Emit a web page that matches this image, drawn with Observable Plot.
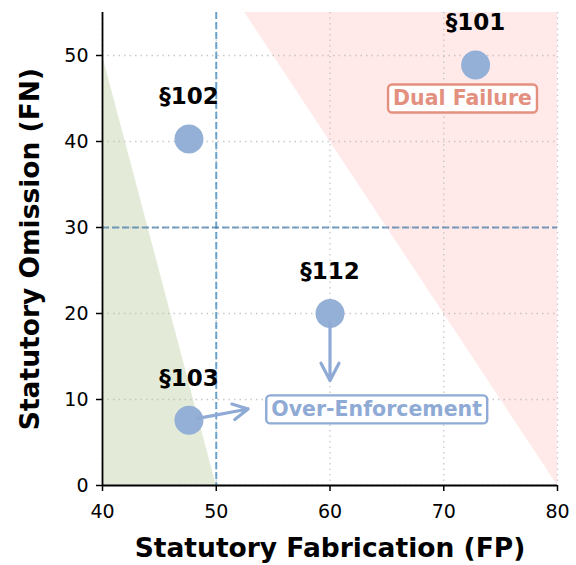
<!DOCTYPE html>
<html><head><meta charset="utf-8">
<script src="https://cdn.jsdelivr.net/npm/d3@7"></script>
<script src="https://cdn.jsdelivr.net/npm/@observablehq/plot@0.6"></script>
<style>
body{margin:0;background:#fff;}
svg{font-family:"DejaVu Sans",sans-serif;}
</style></head><body><div id="chart"></div>
<script>
// data
const sections = ["§101","§102","§112","§103"];
const fp = [72.8, 47.6, 60.0, 47.6];
const fn = [48.9, 40.3, 20.0, 7.6];
const xTicks = [40,50,60,70,80];
const yTicks = [0,10,20,30,40,50];
const thresholdFp = 50;
const thresholdFn = 30;
// zones: x, lower bound, upper bound
const greenX = [40, 50], greenLo = [0, 0], greenHi = [50, 0];
const redX = [52.5, 80], redLo = [55, 0], redHi = [55, 55];
const arrowFrom = [[60,19],[48.4,7.8]];
const arrowTo = [[60,12.2],[52.8,8.9]];
const boxLabels = ["Dual Failure","Over-Enforcement"];
const boxFp = [71.65, 64.1];
const boxFn = [44.95, 8.8];
const boxColors = ["#e3907f","#8eaad5"];

const pts = sections.map((s,i)=>({s, x:fp[i], y:fn[i]}));
const arrows = arrowFrom.map((a,i)=>({x1:a[0],y1:a[1],x2:arrowTo[i][0],y2:arrowTo[i][1]}));
const boxes = boxLabels.map((t,i)=>({t,x:boxFp[i],y:boxFn[i],c:boxColors[i]}));
const green = greenX.map((x,i)=>({x, lo:greenLo[i], hi:greenHi[i]}));
const red = redX.map((x,i)=>({x, lo:redLo[i], hi:redHi[i]}));

const chart = Plot.plot({
  width:576, height:565,
  marginLeft:102, marginRight:19, marginTop:12, marginBottom:80,
  x:{domain:[40,80], ticks:xTicks, label:null},
  y:{domain:[0,55], ticks:yTicks, label:null},
  style:{fontFamily:"DejaVu Sans, sans-serif", background:"#fff"},
  marks:[
    Plot.areaY(red, {x:"x", y1:"lo", y2:"hi", fill:"#ffe9e9"}),
    Plot.areaY(green, {x:"x", y1:"lo", y2:"hi", fill:"#e3ebd8"}),
    Plot.gridX(xTicks, {stroke:"#bbb", strokeOpacity:0.8, strokeDasharray:"1.5,4", strokeWidth:1.3}),
    Plot.gridY(yTicks, {stroke:"#bbb", strokeOpacity:0.8, strokeDasharray:"1.5,4", strokeWidth:1.3}),
    Plot.ruleX([thresholdFp], {stroke:"#4a8fc2", strokeOpacity:0.8, strokeWidth:2, strokeDasharray:"7,3"}),
    Plot.ruleY([thresholdFn], {stroke:"#4a7fae", strokeOpacity:0.75, strokeWidth:2, strokeDasharray:"7,3"}),
    Plot.dot(pts, {x:"x", y:"y", r:14.5, fill:"#94b0d7"}),
    Plot.arrow(arrows, {x1:"x1", y1:"y1", x2:"x2", y2:"y2", stroke:"#8eaad5", strokeWidth:3.2, headLength:12, headAngle:55}),
    Plot.text(pts, {x:"x", y:"y", text:"s", dy:-42, fontSize:23, fontWeight:"bold", fill:"#000"}),
    Plot.text(boxes, {x:"x", y:"y", text:"t", fill:"c", fontSize:20.5, fontWeight:"bold", className:"boxlabel"}),
    Plot.axisX(xTicks, {tickSize:6, fontSize:19, tickPadding:13, stroke:"#000", strokeWidth:1.5, color:"#000", label:null}),
    Plot.axisY(yTicks, {tickSize:6, fontSize:19, tickPadding:8, stroke:"#000", strokeWidth:1.5, color:"#000", label:null}),
    Plot.ruleX([40], {stroke:"#000", strokeWidth:1.8}),
    Plot.ruleY([0], {stroke:"#000", strokeWidth:1.8}),
    Plot.text(["Statutory Fabrication (FP)"], {frameAnchor:"bottom", dy:71, fontSize:26.5, fontWeight:"bold", fill:"#000"}),
    Plot.text(["Statutory Omission (FN)"], {frameAnchor:"left", textAnchor:"middle", dx:-72, rotate:-90, fontSize:26.5, fontWeight:"bold", fill:"#000"})
  ]
});
document.getElementById("chart").appendChild(chart);
// draw rounded boxes behind boxed labels
d3.select(chart).selectAll("g.boxlabel text").each(function(d,i){
  const bb = this.getBBox();
  const col = boxColors[i];
  const padX = 5, padY = 2;
  d3.select(this.parentNode).insert("rect", () => this)
    .attr("transform", this.getAttribute("transform"))
    .attr("x", bb.x - padX).attr("y", bb.y - padY)
    .attr("width", bb.width + 2*padX).attr("height", bb.height + 2*padY)
    .attr("rx", 4).attr("fill", "#fff").attr("stroke", col).attr("stroke-width", 2.4);
});
</script></body></html>
